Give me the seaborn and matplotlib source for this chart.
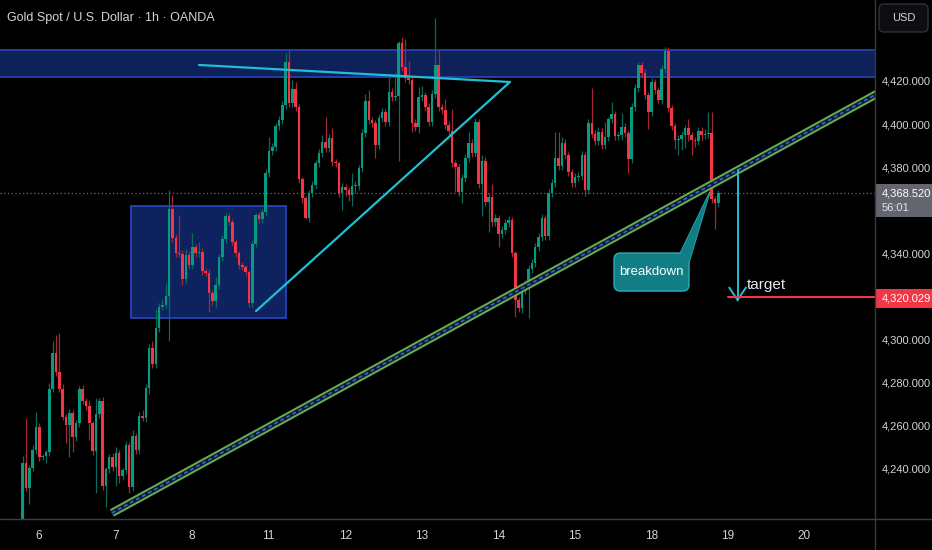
import numpy as np
import pandas as pd
import matplotlib
matplotlib.use("Agg")
import matplotlib.pyplot as plt
import seaborn as sns
from matplotlib.patches import Rectangle, FancyBboxPatch, Polygon
from matplotlib.lines import Line2D

# ---------------- data ----------------
first_open = 4212.0
closes = [
    4243.2, 4231.6, 4240.9, 4249.2, 4259.9, 4246.0, 4246.4, 4248.3, 4277.5, 4294.2,
    4285.4, 4277.5, 4264.5, 4260.8, 4266.4, 4255.3, 4261.8, 4277.5, 4272.0, 4269.7,
    4261.8, 4248.8, 4265.9, 4272.0, 4232.5, 4240.4, 4246.0, 4241.3, 4247.8, 4237.0,
    4240.0, 4251.6, 4232.1, 4255.7, 4249.2, 4265.0, 4264.1, 4278.0, 4296.6, 4289.1,
    4305.8, 4315.6, 4316.5, 4320.7, 4361.0, 4347.6, 4340.6, 4340.1, 4328.6, 4339.7,
    4335.1, 4343.4, 4340.6, 4341.1, 4332.3, 4331.4, 4322.1, 4318.4, 4325.8, 4338.8,
    4347.1, 4357.8, 4355.0, 4345.8, 4340.6, 4335.1, 4334.2, 4331.8, 4317.4, 4344.8,
    4358.3, 4356.4, 4359.7, 4377.8, 4388.0, 4389.8, 4399.6, 4402.4, 4409.3, 4429.3,
    4410.3, 4416.8, 4408.4, 4375.0, 4366.2, 4356.9, 4368.5, 4372.2, 4382.4, 4387.0,
    4392.2, 4389.4, 4394.0, 4382.9, 4382.5, 4368.5, 4371.3, 4369.9, 4367.6, 4371.7,
    4371.9, 4380.1, 4396.3, 4411.2, 4402.4, 4401.0, 4390.8, 4403.3, 4406.1, 4401.4,
    4415.4, 4413.0, 4413.3, 4438.1, 4427.0, 4421.9, 4420.9, 4401.0, 4399.1, 4413.0,
    4414.0, 4408.4, 4401.4, 4414.4, 4427.9, 4408.4, 4407.0, 4400.0, 4397.3, 4382.4,
    4380.6, 4369.0, 4375.5, 4384.7, 4391.7, 4387.0, 4401.4, 4372.7, 4383.3, 4364.3,
    4366.6, 4355.0, 4356.9, 4349.5, 4351.3, 4354.6, 4356.0, 4340.6, 4318.8, 4315.1,
    4323.5, 4326.3, 4333.2, 4336.0, 4343.4, 4348.1, 4356.9, 4348.5, 4368.5, 4373.1,
    4384.7, 4381.0, 4391.7, 4386.1, 4378.2, 4373.1, 4375.9, 4376.4, 4386.1, 4369.9,
    4401.0, 4395.9, 4392.6, 4396.8, 4390.8, 4394.5, 4402.8, 4405.2, 4395.0, 4395.3,
    4399.1, 4396.3, 4384.3, 4408.4, 4417.2, 4427.9, 4424.2, 4414.0, 4406.1, 4420.0,
    4416.3, 4411.6, 4426.0, 4434.4, 4407.9, 4399.6, 4393.1, 4393.4, 4395.4, 4398.6,
    4395.4, 4393.1, 4392.8, 4397.3, 4395.4, 4396.0, 4396.3, 4365.7, 4363.9, 4368.52,
]
upper_wick = [
    3.2, 21, 1.5, 2.4, 7, 2, 1, 1, 3, 5.6,
    8.4, 18, 2.5, 1.5, 2, 1.5, 1.5, 1.5, 2, 1.5,
    2.7, 1, 7.5, 1.5, 2, 1, 1.5, 2, 2.8, 1.5,
    1, 2, 1.5, 3, 1.5, 2, 3, 2, 2, 3,
    9, 2, 3, 6, 9, 6.6, 2, 17.5, 2, 3,
    2, 6.5, 1.5, 4.7, 2, 1.5, 2, 1.5, 3.7, 1.5,
    2, 1.4, 1.5, 1.5, 1.5, 1, 1.5, 1, 1, 1.5,
    1, 1.5, 1.5, 2, 6.5, 2, 1.5, 2, 2, 4.2,
    5.5, 4, 3, 1.5, 1, 1, 1.5, 2, 1.5, 2,
    3, 11.5, 2, 4.6, 1.5, 1, 2, 1.5, 1.5, 6,
    2, 1.5, 2, 3, 5, 1.5, 1.5, 2, 2, 1.5,
    7, 2, 11, 1, 3, 13, 8, 1.5, 2, 4.7,
    4, 1.5, 2, 2, 22, 7, 1.5, 5, 2, 10,
    1.5, 1.5, 2, 2, 5, 2, 2, 1.5, 3, 2,
    2, 6, 2, 1.5, 2, 2, 2, 1.5, 1, 1.5,
    2, 2, 2, 2, 2, 2, 2, 1.5, 2, 2,
    12, 12, 3, 2, 1.5, 1.5, 2, 2, 2, 1.5,
    2, 16, 2, 2.5, 2, 7, 1, 5.5, 1.5, 1.5,
    6.5, 2, 1.5, 2, 2, 1.5, 1.5, 2, 1.5, 2,
    1.4, 1.5, 2, 2, 2, 1.5, 1.5, 2, 2, 1.4,
    4, 1.5, 1.5, 2, 2, 2, 10, 10, 1.5, 1.5,
]
lower_wick = [
    5, 1.5, 7.6, 1.5, 2, 2, 1.5, 3, 2, 1.5,
    2, 1.5, 1.5, 8.5, 15, 7, 2, 2, 1.5, 2,
    8, 2, 19.5, 2, 2, 9.7, 2, 2, 9, 3,
    1.5, 2, 3, 2, 2, 2, 1.5, 2, 3, 2,
    2, 2, 1.5, 2, 20.7, 2, 2, 1.5, 3, 2,
    2, 2, 2, 2, 2, 1.5, 9, 2, 3, 2,
    2, 2, 1.5, 1.5, 2, 2, 1.5, 2, 2, 2,
    1.5, 2, 2, 2, 2, 2, 2, 2, 2, 2,
    2, 2, 2, 2, 2.3, 0.5, 2, 2, 2, 2,
    2, 2, 2, 2, 2, 2, 8, 3, 3, 5,
    3, 2, 2, 2, 2, 2, 6, 2, 2, 2,
    2, 2, 2, 30, 2, 2, 2, 4, 2, 3,
    2, 2, 2, 2, 2, 2, 2, 2, 2, 2,
    11.6, 2, 5, 2, 2, 2, 2, 2, 15, 2,
    14, 2, 2, 6, 2, 2, 2, 2, 8, 2,
    2.3, 2, 16, 2, 2, 2, 2, 2, 2, 2,
    2, 2, 2, 2, 2, 2, 2, 2, 2, 3,
    2, 2, 2, 2, 2, 2, 2, 2, 2, 2,
    2, 2, 6.5, 2, 2, 2, 2, 2, 8, 2,
    2, 1.3, 2, 2, 2, 2, 4, 7, 5, 6,
    3, 7, 3, 2, 3, 2, 2, 2, 12, 2,
]
day_labels = ["6", "7", "8", "11", "12", "13", "14", "15", "18", "19", "20"]
day_ticks = [4.9, 27.9, 50.9, 73.9, 96.9, 119.9, 142.9, 165.9, 188.9, 211.9, 234.9]
price_ticks = [4420, 4400, 4380, 4340, 4300, 4280, 4260, 4240]
last_price = 4368.52
target_price = 4320.029

# ---------------- figure ----------------
sns.set_theme(style="dark", rc={"axes.facecolor": "black", "figure.facecolor": "black"})
plt.rcParams["font.family"] = ["Liberation Sans Narrow", "Liberation Sans", "DejaVu Sans"]

W, H = 932, 550
fig = plt.figure(figsize=(W / 100, H / 100), dpi=100, facecolor="black")
ax = fig.add_axes([0, 31 / H, 875 / W, 519 / H], facecolor="black")
ax_r = fig.add_axes([875 / W, 31 / H, 57 / W, 519 / H], facecolor="black")

YMIN, YMAX = 4217.2, 4458.05
XMIN, XMAX = -6.82, 256.1
ax.set_xlim(XMIN, XMAX)
ax.set_ylim(YMIN, YMAX)

opens = [first_open] + closes[:-1]
df = pd.DataFrame({"open": opens, "close": closes,
                   "uw": upper_wick, "lw": lower_wick})
df["x"] = np.arange(len(df))
df["top"] = df[["open", "close"]].max(axis=1)
df["bot"] = df[["open", "close"]].min(axis=1)
df["high"] = df["top"] + df["uw"]
df["low"] = df["bot"] - df["lw"]
df["up"] = df["close"] >= df["open"]

GREEN, RED = "#089981", "#f23645"
GREEN_W, RED_W = "#0c6a5d", "#a32636"

# resistance zone
ax.axhspan(4422.3, 4434.85, facecolor="#0f2159", edgecolor="none", zorder=0)
for yb in (4422.3, 4434.85):
    ax.axhline(yb, color="#2443b0", lw=1.3, zorder=0.5)

# consolidation box
ax.add_patch(Rectangle((32.5, 4310.5), 46.6, 52.0, facecolor="#0f2260",
                       edgecolor="#2544b8", lw=1.3, zorder=0.5))

# current price dotted line
ax.axhline(last_price, color="#6b6e76", ls=(0, (1, 2)), lw=0.9, zorder=1)

# candles
ax.vlines(df["x"], df["low"], df["high"],
          colors=np.where(df["up"], GREEN_W, RED_W), linewidth=0.9, zorder=3)
body_h = np.maximum(df["top"] - df["bot"], 0.5)
ax.bar(df["x"], body_h, bottom=df["bot"], width=0.76,
       color=np.where(df["up"], GREEN, RED), linewidth=0, zorder=4)

# ascending channel line (green band)
chan = pd.DataFrame({"x": [26.8, 258.0], "y": [4220.0, 4415.6]})
sns.lineplot(data=chan, x="x", y="y", ax=ax, color="#66ad50", lw=6.0,
             solid_capstyle="butt", zorder=5)
sns.lineplot(data=chan, x="x", y="y", ax=ax, color="#0b1733", lw=3.1,
             solid_capstyle="butt", zorder=5.1)
ax.plot(chan["x"], chan["y"], color="#3d5fc0", lw=1.3, ls=(0, (2.2, 1.6)), zorder=5.2)

CYAN = "#1fc0d6"
# triangle lines
top_line = pd.DataFrame({"x": [52.97, 146.4], "y": [4427.9, 4420.0]})
sns.lineplot(data=top_line, x="x", y="y", ax=ax, color=CYAN, lw=1.6, zorder=6)
rise_line = pd.DataFrame({"x": [70.1, 146.4], "y": [4313.7, 4420.0]})
sns.lineplot(data=rise_line, x="x", y="y", ax=ax, color=CYAN, lw=1.6, zorder=6)

# breakdown callout
TEAL, TEAL_E = "#117e86", "#2aa8b1"
ptr = [(197.6, 4340.6), (206.5, 4369.0), (200.2, 4336.3)]
ax.add_patch(Polygon(ptr, closed=True, facecolor=TEAL, edgecolor=TEAL_E, lw=1.1, zorder=7))
ax.add_patch(FancyBboxPatch((177.7, 4323.0), 22.5, 17.6,
                            boxstyle="round,pad=0,rounding_size=1.9",
                            mutation_aspect=1.545, facecolor=TEAL,
                            edgecolor=TEAL_E, lw=1.1, zorder=7.1))
ax.add_patch(Polygon(ptr, closed=True, facecolor=TEAL, edgecolor="none", zorder=7.2))
ax.text(188.95, 4331.8, "breakdown", color="white", fontsize=9.5,
        ha="center", va="center", zorder=8)

# target arrow
ax.plot([214.8, 214.8], [4379.2, 4318.8], color=CYAN, lw=1.4, zorder=6)
ax.plot([212.3, 214.8, 217.3], [4324.6, 4318.8, 4324.6], color=CYAN, lw=1.4,
        zorder=6, solid_joinstyle="miter")
ax.text(217.6, 4325.6, "target", color="#e6e8ee", fontsize=11,
        ha="left", va="center", zorder=8)
ax.plot([211.8, 258.0], [target_price, target_price], color=RED, lw=1.5, zorder=6)

# main axis cosmetics
ax.grid(False)
for s in ax.spines.values():
    s.set_visible(False)
ax.set_yticks([])
ax.set_xticks(day_ticks)
ax.set_xticklabels(day_labels)
ax.tick_params(axis="x", length=0, pad=8, labelcolor="#d1d4dc", labelsize=8.5)
ax.set_xlabel("")
ax.set_ylabel("")

# right price scale
ax_r.set_xlim(0, 1)
ax_r.set_ylim(YMIN, YMAX)
ax_r.axis("off")
for p in price_ticks:
    ax_r.text(0.12, p, f"{p:,.3f}", color="#d1d4dc", fontsize=8,
              ha="left", va="center")
ax_r.add_patch(Rectangle((0, 4357.2), 1, 15.5, facecolor="#63666f", edgecolor="none"))
ax_r.text(0.12, 4368.3, f"{last_price:,.3f}", color="white", fontsize=8,
          ha="left", va="center")
ax_r.text(0.12, 4361.4, "56:01", color="#e0e3eb", fontsize=8, ha="left", va="center")
ax_r.add_patch(Rectangle((0, 4314.9), 1, 9.0, facecolor=RED, edgecolor="none"))
ax_r.text(0.12, 4319.6, f"{target_price:,.3f}", color="white", fontsize=8,
          ha="left", va="center")

# USD box
fig.patches.append(FancyBboxPatch((879 / W, 1 - 32 / H), 49 / W, 28 / H,
                                  boxstyle="round,pad=0,rounding_size=0.0055",
                                  mutation_aspect=W / H, transform=fig.transFigure,
                                  facecolor="#0e0e10", edgecolor="#2f323b", lw=1.0))
fig.text(903.5 / W, 1 - 18 / H, "USD", color="#d1d4dc", fontsize=8,
         ha="center", va="center")

# separators
fig.add_artist(Line2D([875 / W, 875 / W], [0, 1], transform=fig.transFigure,
                      color="#363a45", lw=1.0))
fig.add_artist(Line2D([0, 1], [31 / H, 31 / H], transform=fig.transFigure,
                      color="#3a3e4a", lw=1.0))

# title
fig.text(7 / W, 1 - 18 / H, "Gold Spot / U.S. Dollar \u00b7 1h \u00b7 OANDA",
         color="#d1d4dc", fontsize=9, ha="left", va="center")

fig.savefig("out.png", dpi=100, facecolor="black")
